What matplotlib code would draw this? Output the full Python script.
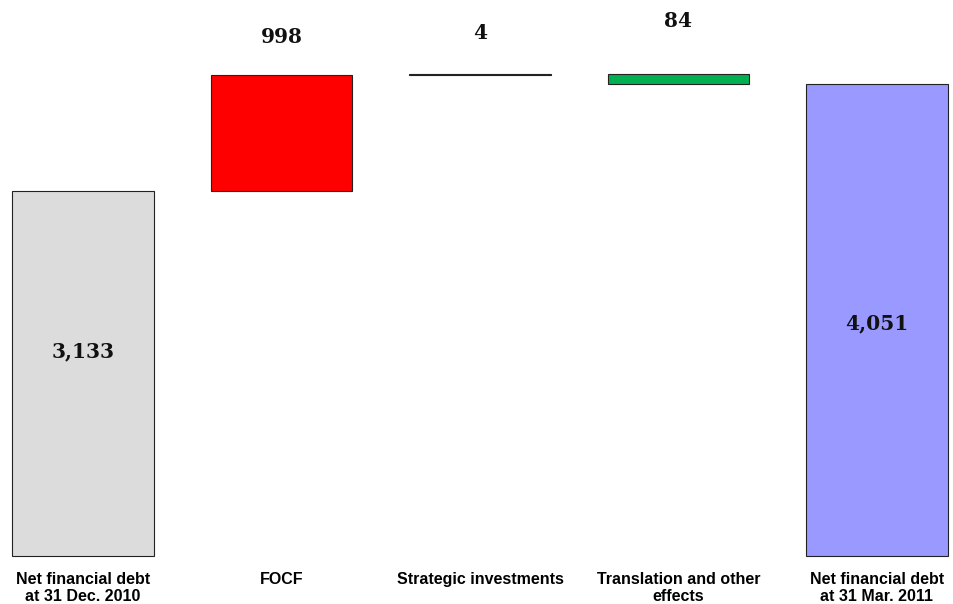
import numpy as np
import matplotlib.pyplot as plt

categories = ['Net financial debt\nat 31 Dec. 2010', 'FOCF', 'Strategic investments',
              'Translation and other\neffects', 'Net financial debt\nat 31 Mar. 2011']
opening = 3133
changes = [998, 4, -84]
closing = 4051
labels = ['3,133', '998', '4', '84', '4,051']

colors = ['#dcdcdc', '#ff0000', '#000000', '#00b050', '#9999ff']

# waterfall bottoms and heights
bottoms = [0]
heights = [opening]
level = opening
for c in changes:
    if c >= 0:
        bottoms.append(level)
        heights.append(c)
    else:
        bottoms.append(level + c)
        heights.append(-c)
    level += c
bottoms.append(0)
heights.append(closing)

fig = plt.figure(figsize=(9.54, 6.04), dpi=100)
ax = fig.add_axes([0, 48 / 604, 1, 556 / 604])

x = np.arange(len(categories))
bars = ax.bar(x, heights, bottom=bottoms, width=0.715, color=colors,
              edgecolor='#222222', linewidth=0.8)
for b in bars:
    b.set_clip_on(False)

ax.set_xlim(-83 / 198.5, (954 - 83) / 198.5)
ax.set_ylim(0, 556 / (365 / 3133))
ax.axis('off')

serif = dict(family='DejaVu Serif', fontweight='bold', fontsize=14.5, color='#111111')
# totals inside, changes above
ax.text(x[0], opening / 2 + 190, labels[0], ha='center', va='center', **serif)
ax.text(x[4], closing / 2 - 25, labels[4], ha='center', va='center', **serif)
ax.text(x[1], 4131 + 320, labels[1], ha='center', va='center', **serif)
ax.text(x[2], 4135 + 350, labels[2], ha='center', va='center', **serif)
ax.text(x[3], 4135 + 460, labels[3], ha='center', va='center', **serif)

for xi, cat in zip(x, categories):
    ax.text(xi, -135, cat, ha='center', va='top', family='Liberation Sans',
            fontweight='bold', fontsize=11.5, linespacing=1.2, clip_on=False)

fig.savefig('out.png', dpi=100)
